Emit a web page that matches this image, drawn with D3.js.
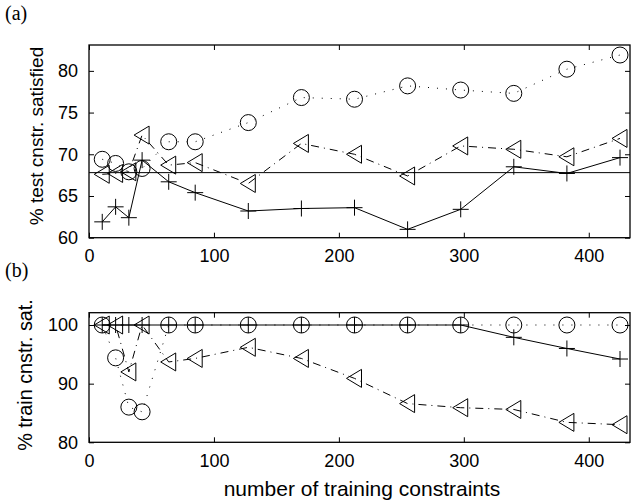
<!DOCTYPE html>
<html>
<head>
<meta charset="utf-8">
<script src="https://cdn.jsdelivr.net/npm/d3@7"></script>
<style>
  body { margin: 0; background: #fff; }
  svg { display: block; }
  .tick text { font-family: "Liberation Sans", Arial, sans-serif; font-size: 18px; fill: #000; }
</style>
</head>
<body>
<div id="chart"></div>
<script>
// number of training constraints
const nTrain = [10.6, 21.3, 31.9, 42.5, 63.8, 85, 127.5, 170, 212.5, 255, 297.5, 340, 382.5, 425];

// (a) % test constraints satisfied
const testCircle = [69.4, 68.9, 67.9, 68.3, 71.5, 71.5, 73.8, 76.8, 76.6, 78.2, 77.7, 77.3, 80.2, 81.9];
const testTriangle = [67.6, 67.7, 67.9, 72.3, 68.7, 69.0, 66.5, 71.3, 70.0, 67.4, 71.0, 70.6, 69.7, 71.9];
const testPlus = [61.9, 63.7, 62.4, 69.3, 66.7, 65.4, 63.2, 63.5, 63.6, 61.0, 63.4, 68.5, 67.7, 69.6];
const testBaseline = 67.8;

// (b) % train constraints satisfied
const trainCircle = [100, 94.4, 86.0, 85.2, 100, 100, 100, 100, 100, 100, 100, 100, 100, 100];
const trainTriangle = [100, 100, 92.0, 100, 93.7, 94.3, 96.2, 94.3, 90.9, 86.6, 85.9, 85.6, 83.4, 83.0];
const trainPlus = [100, 100, 100, 100, 100, 100, 100, 100, 100, 100, 100, 97.9, 96.0, 94.2];

const xTicks = [0, 100, 200, 300, 400];
const testTicks = [60, 65, 70, 75, 80];
const trainTicks = [80, 90, 100];

const width = 631, height = 504;
const svg = d3.select('#chart').append('svg')
    .attr('width', width)
    .attr('height', height);

const font = '"Liberation Sans", Arial, sans-serif';

const xScale = d3.scaleLinear().domain([0, 433]).range([89, 630]);

function panel(opts) {
    const y = d3.scaleLinear().domain(opts.yDomain).range([opts.bottom, opts.top]);
    const g = svg.append('g');
    const left = xScale.range()[0], right = xScale.range()[1];

    // Axes with inward ticks
    g.append('g')
        .attr('transform', `translate(0,${opts.bottom})`)
        .call(d3.axisBottom(xScale).tickValues(xTicks).tickSize(-5).tickSizeOuter(0).tickPadding(12))
        .call(a => a.select('.domain').remove());
    g.append('g')
        .attr('transform', `translate(0,${opts.top})`)
        .call(d3.axisTop(xScale).tickValues(xTicks).tickSize(-5).tickSizeOuter(0).tickFormat(''))
        .call(a => a.select('.domain').remove());
    g.append('g')
        .attr('transform', `translate(${left},0)`)
        .call(d3.axisLeft(y).tickValues(opts.yTicks).tickSize(-5).tickSizeOuter(0).tickPadding(11))
        .call(a => a.select('.domain').remove());
    g.append('g')
        .attr('transform', `translate(${right},0)`)
        .call(d3.axisRight(y).tickValues(opts.yTicks).tickSize(-5).tickSizeOuter(0).tickFormat(''))
        .call(a => a.select('.domain').remove());
    g.selectAll('.tick line').attr('stroke', '#000');

    g.append('rect')
        .attr('x', left).attr('y', opts.top)
        .attr('width', right - left).attr('height', opts.bottom - opts.top)
        .attr('fill', 'none').attr('stroke', '#000').attr('stroke-width', 1.3);

    if (opts.baseline !== undefined) {
        g.append('line')
            .attr('x1', left).attr('x2', right)
            .attr('y1', y(opts.baseline)).attr('y2', y(opts.baseline))
            .attr('stroke', '#000').attr('stroke-width', 1);
    }

    const line = d3.line().x((d, i) => xScale(nTrain[i])).y(d => y(d));

    function series(values, dash, marker) {
        g.append('path')
            .datum(values)
            .attr('fill', 'none')
            .attr('stroke', '#000')
            .attr('stroke-width', 1)
            .attr('stroke-dasharray', dash)
            .attr('d', line);
        const m = g.selectAll(null).data(values).enter().append('path')
            .attr('transform', (d, i) => `translate(${xScale(nTrain[i])},${y(d)})`)
            .attr('fill', 'none')
            .attr('stroke', '#000')
            .attr('stroke-width', 1);
        if (marker === 'circle') m.attr('d', 'M8,0A8,8 0 1,1 -8,0A8,8 0 1,1 8,0Z');
        if (marker === 'tri') m.attr('d', 'M-8,0L7,-9L7,9Z');
        if (marker === 'plus') m.attr('d', 'M-8,0H8M0,-8V8');
    }

    opts.series.forEach(s => series(s[0], s[1], s[2]));

    svg.append('text')
        .attr('x', 5).attr('y', opts.tagY)
        .attr('font-family', '"Liberation Serif", "Times New Roman", serif')
        .attr('font-size', 20)
        .text(opts.tag);

    svg.append('text')
        .attr('transform', `translate(${opts.labelX},${opts.labelY}) rotate(-90)`)
        .attr('text-anchor', 'middle')
        .attr('font-family', font)
        .attr('font-size', opts.labelSize)
        .text(opts.yLabel);
}

panel({
    top: 45, bottom: 237.7, yDomain: [60, 83.1], yTicks: testTicks,
    baseline: testBaseline, tag: '(a)', tagY: 20, labelX: 43, labelY: 136, labelSize: 19,
    yLabel: '% test cnstr. satisfied',
    series: [[testPlus, null, 'plus'], [testTriangle, '8,5,1,5', 'tri'], [testCircle, '1,8', 'circle']]
});

panel({
    top: 312.7, bottom: 442.3, yDomain: [80, 102.1], yTicks: trainTicks,
    tag: '(b)', tagY: 277, labelX: 32, labelY: 375, labelSize: 19.8,
    yLabel: '% train cnstr. sat.',
    series: [[trainPlus, null, 'plus'], [trainTriangle, '8,5,1,5', 'tri'], [trainCircle, '1,8', 'circle']]
});

svg.append('text')
    .attr('x', 362).attr('y', 496)
    .attr('text-anchor', 'middle')
    .attr('font-family', font)
    .attr('font-size', 21)
    .text('number of training constraints');
</script>
</body>
</html>
